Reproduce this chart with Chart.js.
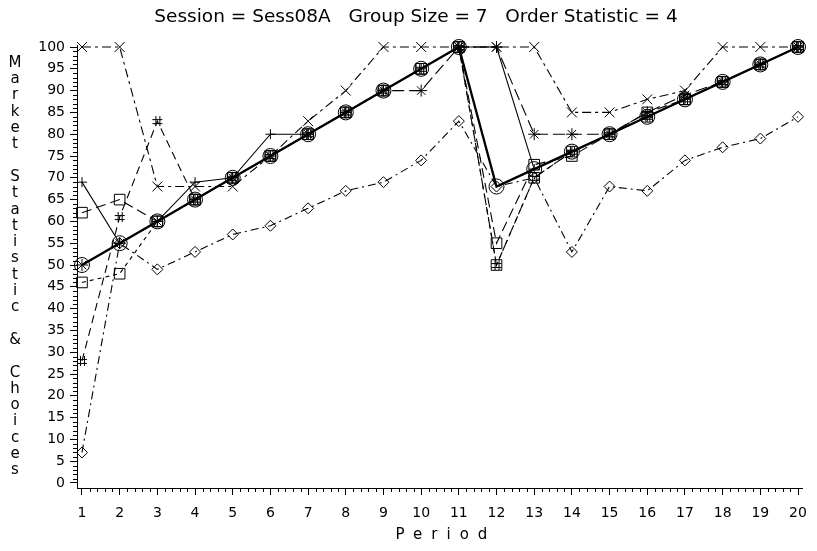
<!DOCTYPE html>
<html>
<head>
<meta charset="utf-8">
<script src="https://cdn.jsdelivr.net/npm/chart.js@4/dist/chart.umd.min.js"></script>
<style>
  html, body { margin: 0; padding: 0; background: #fff; }
</style>
</head>
<body>
<canvas id="chart" width="817" height="551"></canvas>
<script>
// Datos
const titulo = "Session = Sess08A   Group Size = 7   Order Statistic = 4";
const periodos = [1, 2, 3, 4, 5, 6, 7, 8, 9, 10, 11, 12, 13, 14, 15, 16, 17, 18, 19, 20];
const ticksY = [0, 5, 10, 15, 20, 25, 30, 35, 40, 45, 50, 55, 60, 65, 70, 75, 80, 85, 90, 95, 100];

const mercado  = [50, 55, 60, 65, 70, 75, 80, 85, 90, 95, 100, 68, 72, 76, 80, 84, 88, 92, 96, 100];
const sujetoMas = [69, 55, 60, 69, 70, 80, 80, 85, 90, 95, 100, 100, 72, 76, 80, 84, 88, 92, 96, 100];
const sujetoX  = [100, 100, 68, 68, 68, 75, 83, 90, 100, 100, 100, 100, 100, 85, 85, 88, 90, 100, 100, 100];
const sujetoEstrella = [50, 55, 60, 65, 70, 75, 80, 85, 90, 90, 100, 100, 80, 80, 80, 85, 89, 92, 96, 100];
const sujetoCuadA = [62, 65, 60, 65, 70, 75, 80, 85, 90, 95, 100, 55, 73, 75, 80, 85, 88, 92, 96, 100];
const sujetoCuadB = [46, 48, 60, 65, 70, 75, 80, 85, 90, 95, 100, 50, 70, 76, 80, 84, 88, 92, 96, 100];
const sujetoRombo = [7, 55, 49, 53, 57, 59, 63, 67, 69, 74, 83, 68, 70, 53, 68, 67, 74, 77, 79, 84];
const sujetoAlmohadilla = [28, 61, 83, 65, 70, 75, 80, 85, 90, 95, 100, 50, 70, 76, 80, 84, 88, 92, 96, 100];

// símbolo "#" dibujado en un canvas pequeño
function crearAlmohadilla() {
  const c = document.createElement("canvas");
  c.width = 12;
  c.height = 12;
  const g = c.getContext("2d");
  g.strokeStyle = "#000";
  g.lineWidth = 1;
  g.beginPath();
  g.moveTo(4.5, 1); g.lineTo(4.5, 11);
  g.moveTo(8.5, 1); g.lineTo(8.5, 11);
  g.moveTo(1, 4.5); g.lineTo(11, 4.5);
  g.moveTo(1, 8.5); g.lineTo(11, 8.5);
  g.stroke();
  return c;
}

const puntos = (serie) => periodos.map((p, i) => ({ x: p, y: serie[i] }));

function serie(datos, estilo, radio, guiones, grosor) {
  return {
    data: puntos(datos),
    borderColor: "#000",
    backgroundColor: "transparent",
    borderWidth: grosor || 1.1,
    borderDash: guiones || [],
    pointStyle: estilo,
    pointRadius: radio,
    pointBorderColor: "#000",
    pointBackgroundColor: "transparent",
    pointBorderWidth: 1,
    tension: 0,
    clip: false,
  };
}

// textos y marcas menores de los ejes
const extras = {
  id: "extras",
  afterDraw(chart) {
    const ctx = chart.ctx;
    const area = chart.chartArea;
    const sx = chart.scales.x;
    const sy = chart.scales.y;
    ctx.save();
    ctx.strokeStyle = "#000";
    ctx.lineWidth = 1;
    ctx.beginPath();
    for (let v = 0; v <= 100; v++) {
      if (v % 5 === 0) continue;
      const py = Math.round(sy.getPixelForValue(v)) + 0.5;
      ctx.moveTo(area.left - 4, py);
      ctx.lineTo(area.left, py);
    }
    for (let v = 1; v < 20; v++) {
      for (let k = 1; k < 5; k++) {
        const px = Math.round(sx.getPixelForValue(v + k / 5)) + 0.5;
        ctx.moveTo(px, area.bottom);
        ctx.lineTo(px, area.bottom + 4);
      }
    }
    ctx.stroke();

    ctx.fillStyle = "#000";
    ctx.textAlign = "center";
    ctx.textBaseline = "middle";
    ctx.font = "18.5px 'DejaVu Sans'";
    ctx.fillText(titulo, 416, 17);

    ctx.font = "15px 'DejaVu Sans'";
    ctx.letterSpacing = "9px";
    ctx.fillText("Period", (area.left + area.right) / 2 + 6, 535);
    ctx.letterSpacing = "0px";

    let y = 63;
    for (const letra of "Market Statistic & Choices") {
      if (letra !== " ") ctx.fillText(letra, 15, y);
      y += 16.3;
    }
    ctx.restore();
  },
};

new Chart(document.getElementById("chart"), {
  type: "line",
  data: {
    datasets: [
      serie(mercado, "circle", 7.5, [], 2.3),
      serie(sujetoMas, "cross", 5, []),
      serie(sujetoX, "crossRot", 7, [9, 4, 3, 4]),
      serie(sujetoEstrella, "star", 6, [12, 5]),
      serie(sujetoCuadA, "rect", 7.5, [10, 5]),
      serie(sujetoCuadB, "rect", 7.5, [4, 4]),
      serie(sujetoRombo, "rectRot", 5.5, [8, 4, 2, 4]),
      serie(sujetoAlmohadilla, crearAlmohadilla(), 6, [8, 5]),
    ],
  },
  options: {
    responsive: false,
    animation: false,
    layout: { padding: { top: 45, right: 12, left: 0, bottom: 0 } },
    plugins: {
      legend: { display: false },
      title: { display: false },
      tooltip: { enabled: false },
    },
    scales: {
      x: {
        type: "linear",
        min: 0.868,
        max: 20.132,
        afterBuildTicks: (s) => { s.ticks = periodos.map((v) => ({ value: v })); },
        afterFit: (s) => { s.height = 63; },
        grid: { drawOnChartArea: false, tickLength: 7, color: "#000" },
        border: { color: "#000", width: 1 },
        ticks: {
          color: "#000",
          font: { family: "'DejaVu Sans'", size: 14 },
          padding: 10,
          maxRotation: 0,
          autoSkip: false,
        },
      },
      y: {
        type: "linear",
        min: -1.147,
        max: 100.46,
        afterBuildTicks: (s) => { s.ticks = ticksY.map((v) => ({ value: v })); },
        afterFit: (s) => { s.width = 77; },
        grid: { drawOnChartArea: false, tickLength: 7, color: "#000" },
        border: { color: "#000", width: 1 },
        ticks: {
          color: "#000",
          font: { family: "'DejaVu Sans'", size: 14 },
          padding: 5,
          autoSkip: false,
        },
      },
    },
  },
  plugins: [extras],
});
</script>
</body>
</html>
